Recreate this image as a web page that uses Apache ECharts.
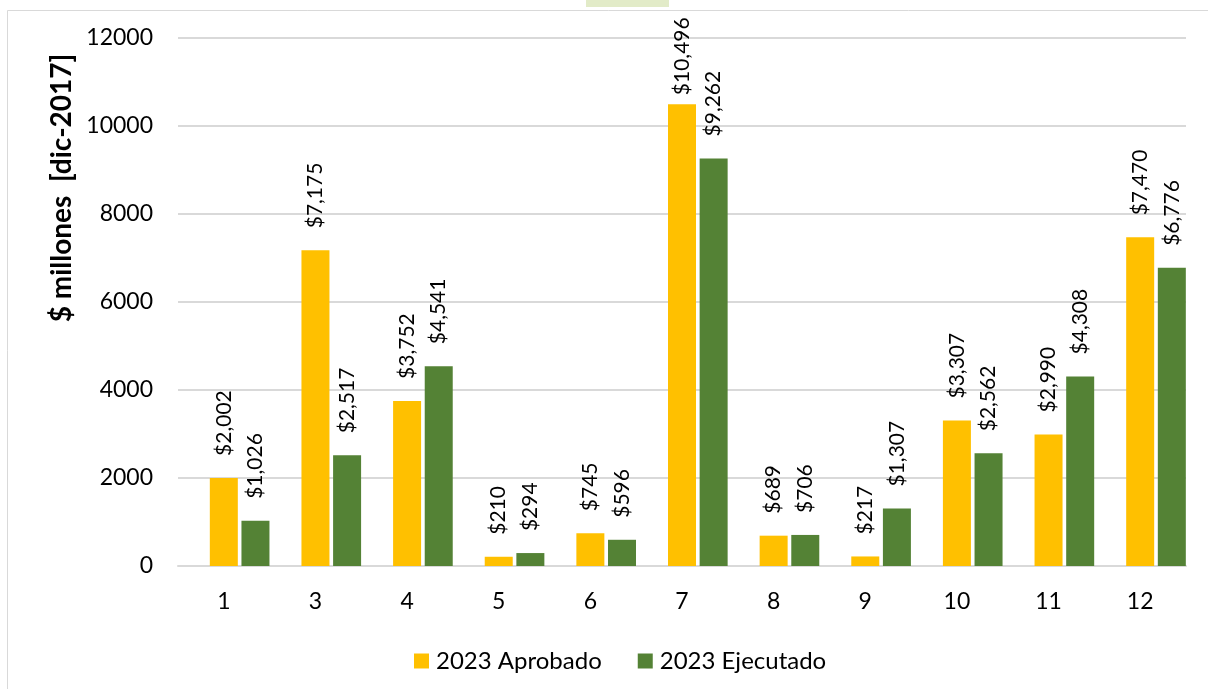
<!DOCTYPE html>
<html>
<head>
<meta charset="utf-8">
<script src="https://cdn.jsdelivr.net/npm/echarts@6/dist/echarts.min.js"></script>
<style>
  html, body { margin: 0; padding: 0; background: #ffffff; }
  #chart { width: 1208px; height: 689px; }
</style>
</head>
<body>
<div id="chart"></div>
<script>
// Programas (ejes horizontales) y montos en millones de pesos de dic-2017
const categories = ['1', '3', '4', '5', '6', '7', '8', '9', '10', '11', '12'];
const aprobado2023 = [2002, 7175, 3752, 210, 745, 10496, 689, 217, 3307, 2990, 7470];
const ejecutado2023 = [1026, 2517, 4541, 294, 596, 9262, 706, 1307, 2562, 4308, 6776];
const yTicks = { min: 0, max: 12000, interval: 2000 };

const FONT = 'Lato, "Open Sans", sans-serif';

const money = v => '$' + Number(v).toLocaleString('en-US');

// Labels that would run past the top edge sit closer to their bar
const labelled = arr => arr.map(v => (v > 10000 ? { value: v, label: { distance: 9 } } : v));

const barLabel = {
  show: true,
  position: 'top',
  rotate: 90,
  align: 'left',
  verticalAlign: 'middle',
  distance: 22,
  color: '#000',
  fontFamily: FONT,
  fontSize: 21,
  formatter: p => money(p.value)
};

const chart = echarts.init(document.getElementById('chart'), null, { renderer: 'canvas' });

chart.setOption({
  animation: false,
  backgroundColor: '#ffffff',
  textStyle: { fontFamily: FONT },
  grid: { left: 178, right: 22, top: 38, bottom: 123, containLabel: false },
  legend: {
    data: ['2023 Aprobado', '2023 Ejecutado'],
    left: 409,
    top: 644,
    itemWidth: 15,
    itemHeight: 15,
    itemGap: 36,
    icon: 'rect',
    textStyle: { fontFamily: FONT, fontSize: 24, color: '#000', padding: [0, 0, 0, 2] }
  },
  xAxis: {
    type: 'category',
    data: categories,
    axisLine: { show: true, lineStyle: { color: '#d9d9d9', width: 2 } },
    axisTick: { show: false },
    axisLabel: { color: '#000', fontFamily: FONT, fontSize: 23, margin: 24 }
  },
  yAxis: {
    type: 'value',
    min: yTicks.min,
    max: yTicks.max,
    interval: yTicks.interval,
    axisLine: { show: false },
    axisTick: { show: false },
    splitLine: { lineStyle: { color: '#d9d9d9', width: 2 } },
    axisLabel: {
      color: '#000',
      fontFamily: FONT,
      fontSize: 23,
      margin: 25,
      formatter: v => String(v)
    }
  },
  graphic: [
    {
      type: 'rect',
      left: 5, top: 8,
      shape: { width: 1210, height: 690 },
      style: { fill: 'none', stroke: '#d9d9d9', lineWidth: 1 },
      silent: true, z: -1
    },
    {
      type: 'rect',
      left: 586, top: 0,
      shape: { width: 83, height: 7 },
      style: { fill: '#e2ebc8' },
      silent: true
    },
    {
      type: 'text',
      x: 62, y: 188,
      rotation: Math.PI / 2,
      style: {
        text: '$ millones  [dic-2017]',
        fontFamily: FONT,
        fontWeight: 'bold',
        fontSize: 28,
        fill: '#000',
        textAlign: 'center',
        textVerticalAlign: 'middle'
      }
    }
  ],
  series: [
    {
      // empty leading slot in each category group
      name: 'reserva',
      type: 'bar',
      barWidth: 28,
      barGap: '13%',
      data: categories.map(() => null)
    },
    {
      name: '2023 Aprobado',
      type: 'bar',
      barWidth: 28,
      barGap: '13%',
      itemStyle: { color: '#ffc000' },
      label: barLabel,
      data: labelled(aprobado2023)
    },
    {
      name: '2023 Ejecutado',
      type: 'bar',
      barWidth: 28,
      barGap: '13%',
      itemStyle: { color: '#548235' },
      label: barLabel,
      data: labelled(ejecutado2023)
    }
  ]
});
</script>
</body>
</html>
